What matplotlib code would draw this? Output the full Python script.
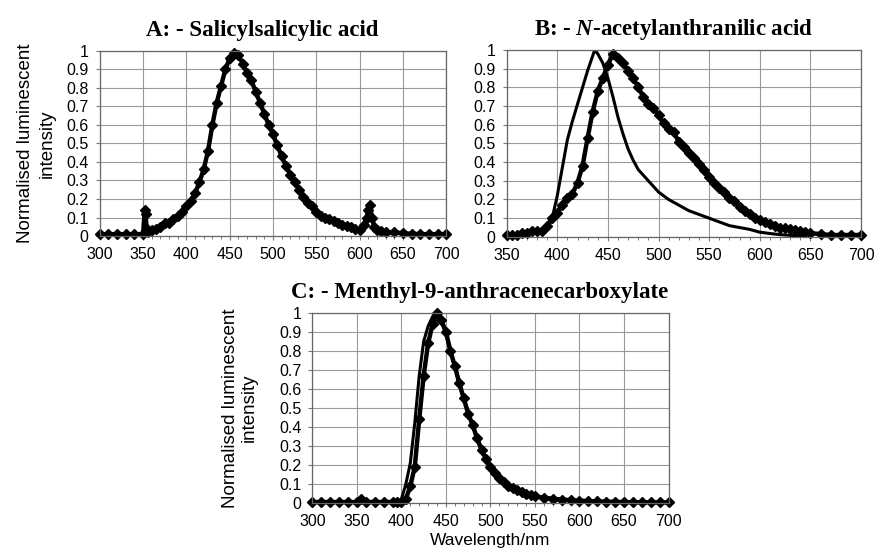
import numpy as np
import matplotlib
matplotlib.use('Agg')
import matplotlib.pyplot as plt
from matplotlib.ticker import MultipleLocator

plt.rcParams['font.family'] = ['Liberation Sans', 'DejaVu Sans']
plt.rcParams['mathtext.fontset'] = 'custom'
plt.rcParams['mathtext.it'] = 'Liberation Serif:italic:bold'
plt.rcParams['mathtext.rm'] = 'Liberation Serif:bold'

# panel A - salicylsalicylic acid (markers)
a_x = [300, 310, 320, 330, 340, 350, 352, 353, 354, 356, 360, 365, 370, 375, 380, 385,
       390, 395, 400, 405, 410, 415, 420, 425, 430, 435, 440, 445, 450, 455, 460, 465,
       470, 475, 480, 485, 490, 495, 500, 505, 510, 515, 520, 525, 530, 535, 540, 545,
       550, 555, 560, 565, 570, 575, 580, 585, 590, 595, 600, 605, 608, 610, 612, 614,
       617, 620, 625, 630, 640, 650, 660, 670, 680, 690, 700]
a_y = [0.01, 0.01, 0.01, 0.01, 0.01, 0.01, 0.14, 0.12, 0.04, 0.02, 0.03, 0.04, 0.05, 0.07, 0.07, 0.09,
       0.11, 0.13, 0.16, 0.19, 0.23, 0.29, 0.36, 0.46, 0.6, 0.72, 0.81, 0.9, 0.96, 0.99, 0.98, 0.93,
       0.88, 0.84, 0.78, 0.72, 0.66, 0.6, 0.55, 0.49, 0.43, 0.38, 0.33, 0.29, 0.25, 0.21, 0.18, 0.16,
       0.13, 0.11, 0.1, 0.09, 0.08, 0.07, 0.06, 0.055, 0.05, 0.04, 0.035, 0.06, 0.1, 0.14, 0.17, 0.1,
       0.05, 0.03, 0.025, 0.02, 0.02, 0.015, 0.012, 0.01, 0.01, 0.01, 0.01]

# panel B - N-acetylanthranilic acid
b_x = [350, 355, 360, 365, 370, 375, 380, 385, 390, 395, 400, 405, 410, 415, 420, 425,
       430, 435, 440, 445, 450, 455, 460, 465, 470, 475, 480, 485, 490, 495, 500, 505,
       510, 515, 520, 525, 530, 535, 540, 545, 550, 555, 560, 565, 570, 575, 580, 585,
       590, 595, 600, 605, 610, 615, 620, 625, 630, 635, 640, 645, 650, 660, 670, 680, 690, 700]
b_y = [0.01, 0.01, 0.01, 0.02, 0.02, 0.03, 0.03, 0.03, 0.06, 0.1, 0.13, 0.17, 0.21, 0.23, 0.29, 0.38,
       0.53, 0.67, 0.78, 0.85, 0.92, 0.98, 0.96, 0.93, 0.89, 0.85, 0.8, 0.75, 0.71, 0.69, 0.65, 0.61,
       0.58, 0.56, 0.51, 0.48, 0.45, 0.42, 0.39, 0.36, 0.32, 0.29, 0.26, 0.24, 0.21, 0.19, 0.16, 0.14,
       0.12, 0.1, 0.09, 0.08, 0.07, 0.06, 0.05, 0.045, 0.04, 0.035, 0.03, 0.025, 0.02, 0.015, 0.01, 0.01, 0.01, 0.01]
b_line_x = [350, 360, 370, 380, 385, 390, 395, 400, 405, 410, 415, 420, 425, 430, 437, 440,
            445, 450, 455, 460, 465, 470, 475, 480, 490, 500, 510, 520, 530, 540, 550, 560,
            570, 580, 590, 600, 610, 620, 630, 640, 645]
b_line_y = [0.01, 0.01, 0.02, 0.02, 0.03, 0.04, 0.1, 0.22, 0.37, 0.52, 0.62, 0.71, 0.8, 0.89, 1.0, 0.98,
            0.93, 0.85, 0.75, 0.64, 0.55, 0.47, 0.41, 0.36, 0.3, 0.24, 0.2, 0.17, 0.14, 0.12, 0.1, 0.08,
            0.06, 0.05, 0.04, 0.025, 0.018, 0.012, 0.008, 0.005, 0.005]

# panel C - menthyl-9-anthracenecarboxylate
c_x = [300, 310, 320, 330, 340, 350, 355, 360, 370, 380, 390, 395, 400, 405, 410, 415,
       420, 425, 430, 435, 440, 445, 450, 455, 460, 465, 470, 475, 480, 485, 490, 495,
       500, 505, 510, 515, 520, 525, 530, 535, 540, 545, 550, 560, 570, 580, 590, 600,
       610, 620, 630, 640, 650, 660, 670, 680, 690, 700]
c_y = [0.005, 0.005, 0.005, 0.005, 0.005, 0.005, 0.02, 0.005, 0.005, 0.005, 0.005, 0.005, 0.005, 0.02, 0.09, 0.19,
       0.44, 0.67, 0.84, 0.94, 1.0, 0.96, 0.9, 0.8, 0.72, 0.63, 0.55, 0.47, 0.41, 0.34, 0.28, 0.23,
       0.19, 0.16, 0.13, 0.11, 0.09, 0.08, 0.07, 0.06, 0.05, 0.04, 0.035, 0.028, 0.022, 0.018, 0.015, 0.012,
       0.01, 0.008, 0.007, 0.006, 0.005, 0.004, 0.004, 0.003, 0.003, 0.003]
c_line_x = [300, 320, 340, 360, 380, 390, 395, 400, 405, 410, 415, 420, 425, 430, 435, 438,
            440, 445, 450, 455, 460, 470, 480, 490, 500, 510, 520, 530, 540, 550, 560, 580, 600]
c_line_y = [0.003, 0.003, 0.003, 0.003, 0.003, 0.003, 0.005, 0.02, 0.1, 0.21, 0.42, 0.67, 0.85, 0.93, 0.98, 1.0,
            0.99, 0.95, 0.89, 0.8, 0.72, 0.55, 0.41, 0.28, 0.19, 0.13, 0.09, 0.07, 0.05, 0.035, 0.028, 0.018, 0.012]

ytick_vals = np.arange(0, 1.01, 0.1)
ytick_text = ['0'] + ['%.1f' % v for v in ytick_vals[1:-1]] + ['1']

fig = plt.figure(figsize=(8.75, 5.56), dpi=100)
axA = fig.add_axes([0.114, 0.5755, 0.396, 0.333])
axB = fig.add_axes([0.579, 0.574, 0.405, 0.336])
axC = fig.add_axes([0.357, 0.0953, 0.407, 0.342])


def style(ax, xmin):
    ax.set_xlim(xmin, 700)
    ax.set_ylim(0, 1)
    ax.xaxis.set_major_locator(MultipleLocator(50))
    ax.xaxis.set_minor_locator(MultipleLocator(10))
    ax.set_yticks(ytick_vals)
    ax.set_yticklabels(ytick_text)
    ax.grid(True, color='#9a9a9a', linewidth=0.8)
    ax.set_axisbelow(True)
    ax.tick_params(axis='both', which='major', length=3, width=0.8, color='#777777',
                   labelsize=11.5, pad=5)
    ax.tick_params(axis='x', which='minor', length=2.5, width=0.7, color='#777777')
    for s in ax.spines.values():
        s.set_color('#666666')
        s.set_linewidth(0.9)


def dots(ax, x, y):
    ax.plot(x, y, color='black', linewidth=3.2, marker='D', markersize=5.5, clip_on=False)


title_kw = dict(family='Liberation Serif', fontweight='bold', fontsize=16.5, pad=11, x=0.47)

style(axA, 300)
dots(axA, a_x, a_y)
axA.set_title('A: - Salicylsalicylic acid', **title_kw)
axA.set_ylabel('Normalised luminescent\nintensity', fontsize=13.5, linespacing=1.35)
axA.yaxis.set_label_coords(-0.128, 0.5)

style(axB, 350)
dots(axB, b_x, b_y)
axB.plot(b_line_x, b_line_y, color='black', linewidth=2.2)
axB.set_title(r'B: - $\mathit{N}$-acetylanthranilic acid', **title_kw)

style(axC, 300)
dots(axC, c_x, c_y)
axC.plot(c_line_x, c_line_y, color='black', linewidth=2.2)
axC.set_title('C: - Menthyl-9-anthracenecarboxylate', **title_kw)
axC.set_ylabel('Normalised luminescent\nintensity', fontsize=13.5, linespacing=1.2)
axC.yaxis.set_label_coords(-0.152, 0.5)
axC.set_xlabel('Wavelength/nm', fontsize=12.5, labelpad=3)

fig.savefig('out.png', dpi=100)
